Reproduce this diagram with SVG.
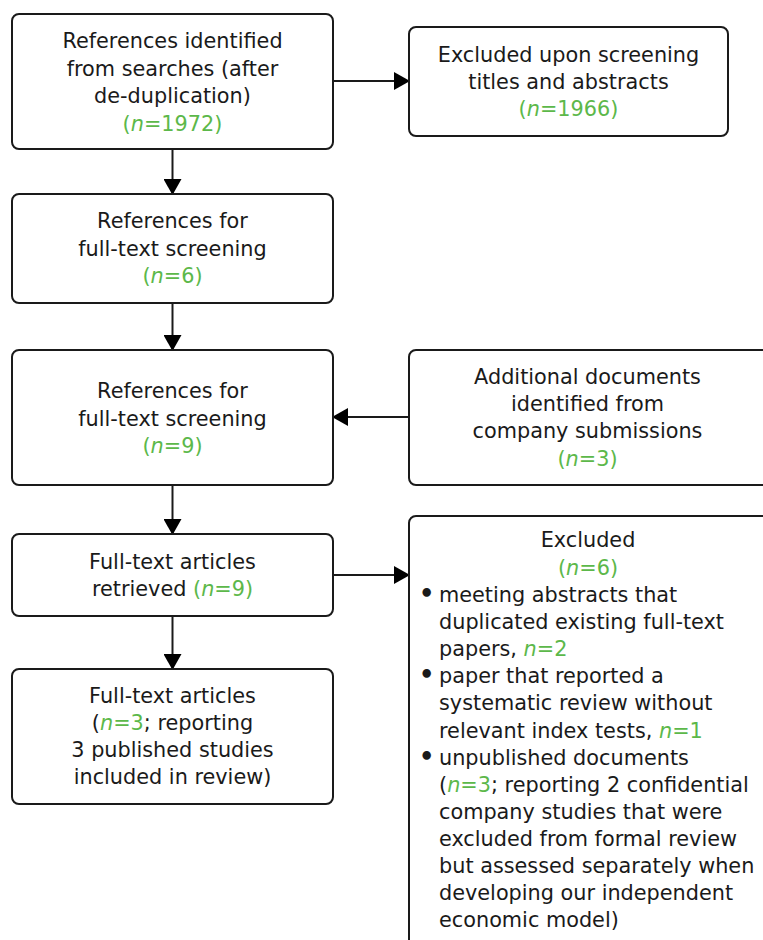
<svg xmlns="http://www.w3.org/2000/svg" width="763" height="940" viewBox="0 0 763 940">
<defs>
<style>
.box{fill:#fff;stroke:#1a1a1a;stroke-width:2}
.t{font-family:"DejaVu Sans","Open Sans","Liberation Sans",sans-serif;font-size:20.8px;fill:#1a1a1a}
.c{text-anchor:middle}
.g{fill:#5cb84a}
.i{font-style:italic}
.b{font-size:24px;font-weight:bold}
.conn{stroke:#1a1a1a;stroke-width:2;fill:none}
</style>
<marker id="ah" markerUnits="userSpaceOnUse" markerWidth="16" markerHeight="18" viewBox="0 0 16 18" refX="15" refY="9" orient="auto">
<path d="M0,0 L16,9 L0,18 Z" fill="#000"/>
</marker>
</defs>
<rect width="763" height="940" fill="#fff"/>
<g id="connectors">
<line class="conn" x1="172.5" y1="149" x2="172.5" y2="194" marker-end="url(#ah)"/>
<line class="conn" x1="172.5" y1="303" x2="172.5" y2="350" marker-end="url(#ah)"/>
<line class="conn" x1="172.5" y1="485" x2="172.5" y2="534" marker-end="url(#ah)"/>
<line class="conn" x1="172.5" y1="616" x2="172.5" y2="669" marker-end="url(#ah)"/>
<line class="conn" x1="333" y1="81" x2="409" y2="81" marker-end="url(#ah)"/>
<line class="conn" x1="409" y1="417" x2="333" y2="417" marker-end="url(#ah)"/>
<line class="conn" x1="333" y1="575" x2="409" y2="575" marker-end="url(#ah)"/>
</g>
<g id="n1">
<rect class="box" x="12" y="14" width="321" height="135" rx="7"/>
<text class="t c" x="172.5" y="48">References identified</text>
<text class="t c" x="172.5" y="75.5">from searches (after</text>
<text class="t c" x="172.5" y="103">de-duplication)</text>
<text class="t c g" x="172.5" y="130.5">(<tspan class="i">n</tspan>=1972)</text>
</g>
<g id="n2">
<rect class="box" x="12" y="194" width="321" height="109" rx="7"/>
<text class="t c" x="172.5" y="228">References for</text>
<text class="t c" x="172.5" y="255.5">full-text screening</text>
<text class="t c g" x="172.5" y="283">(<tspan class="i">n</tspan>=6)</text>
</g>
<g id="n3">
<rect class="box" x="12" y="350" width="321" height="135" rx="7"/>
<text class="t c" x="172.5" y="398">References for</text>
<text class="t c" x="172.5" y="426">full-text screening</text>
<text class="t c g" x="172.5" y="453">(<tspan class="i">n</tspan>=9)</text>
</g>
<g id="n4">
<rect class="box" x="12" y="534" width="321" height="82" rx="7"/>
<text class="t c" x="172.5" y="569">Full-text articles</text>
<text class="t c" x="172.5" y="596">retrieved <tspan class="g">(<tspan class="i">n</tspan>=9)</tspan></text>
</g>
<g id="n5">
<rect class="box" x="12" y="669" width="321" height="135" rx="7"/>
<text class="t c" x="172.5" y="703">Full-text articles</text>
<text class="t c" x="172.5" y="730">(<tspan class="g"><tspan class="i">n</tspan>=3</tspan>; reporting</text>
<text class="t c" x="172.5" y="757">3 published studies</text>
<text class="t c" x="172.5" y="784">included in review)</text>
</g>
<g id="r1">
<rect class="box" x="409" y="27" width="319" height="109" rx="7"/>
<text class="t c" x="568.5" y="62">Excluded upon screening</text>
<text class="t c" x="568.5" y="89">titles and abstracts</text>
<text class="t c g" x="568.5" y="116">(<tspan class="i">n</tspan>=1966)</text>
</g>
<g id="r2">
<rect class="box" x="409" y="350" width="370" height="135" rx="7"/>
<text class="t c" x="587.5" y="384">Additional documents</text>
<text class="t c" x="587.5" y="411">identified from</text>
<text class="t c" x="587.5" y="438">company submissions</text>
<text class="t c g" x="587.5" y="466">(<tspan class="i">n</tspan>=3)</text>
</g>
<g id="r3">
<rect class="box" x="409" y="516" width="370" height="440" rx="7"/>
<text class="t c" x="588" y="547">Excluded</text>
<text class="t c g" x="588" y="575">(<tspan class="i">n</tspan>=6)</text>
<text class="t b" x="419" y="602">•</text>
<text class="t" x="439" y="602">meeting abstracts that</text>
<text class="t" x="439" y="629">duplicated existing full-text</text>
<text class="t" x="439" y="656">papers, <tspan class="g"><tspan class="i">n</tspan>=2</tspan></text>
<text class="t b" x="419" y="683">•</text>
<text class="t" x="439" y="683">paper that reported a</text>
<text class="t" x="439" y="710">systematic review without</text>
<text class="t" x="439" y="738">relevant index tests, <tspan class="g"><tspan class="i">n</tspan>=1</tspan></text>
<text class="t b" x="419" y="765">•</text>
<text class="t" x="439" y="765">unpublished documents</text>
<text class="t" x="439" y="792">(<tspan class="g"><tspan class="i">n</tspan>=3</tspan>; reporting 2 confidential</text>
<text class="t" x="439" y="819">company studies that were</text>
<text class="t" x="439" y="846">excluded from formal review</text>
<text class="t" x="439" y="873">but assessed separately when</text>
<text class="t" x="439" y="900">developing our independent</text>
<text class="t" x="439" y="927">economic model)</text>
</g>
</svg>
